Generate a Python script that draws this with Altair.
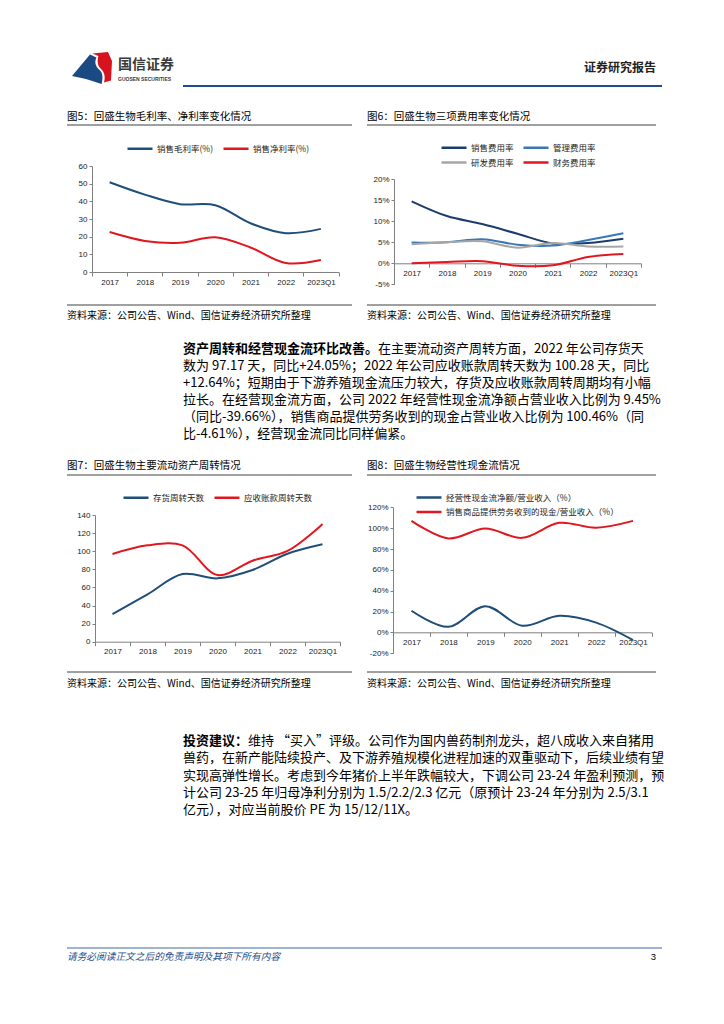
import altair as alt
import pandas as pd

# ---------------- data ----------------
cats = ["2017", "2018", "2019", "2020", "2021", "2022", "2023Q1"]

f5_names = ["销售毛利率(%)", "销售净利率(%)"]
f5_gross = [50.8, 43.8, 38.4, 37.8, 27.6, 22.0, 24.4]
f5_net = [22.6, 17.6, 16.5, 19.7, 13.9, 5.1, 6.8]

f6_names = ["销售费用率", "管理费用率", "研发费用率", "财务费用率"]
f6_sales = [14.7, 11.2, 9.3, 7.0, 4.7, 4.8, 5.8]
f6_admin = [4.9, 5.0, 5.7, 4.4, 4.2, 5.5, 7.1]
f6_rd = [4.5, 5.0, 5.2, 3.7, 4.8, 4.0, 4.0]
f6_fin = [0.0, 0.3, 0.5, -0.6, -0.5, 1.5, 2.2]

f7_names = ["存货周转天数", "应收账款周转天数"]
f7_inv = [30.5, 52.3, 74.8, 70.0, 79.2, 97.17, 107.6]
f7_ar = [96.9, 106.5, 106.5, 73.7, 89.5, 100.28, 130.0]

f8_names = ["经营性现金流净额/营业收入（%）", "销售商品提供劳务收到的现金/营业收入（%）"]
f8_ocf = [20.8, 5.4, 25.2, 6.4, 16.0, 9.45, -7.3]
f8_cash = [107.0, 90.1, 99.7, 90.7, 105.1, 100.46, 107.0]

f5_ticks = [0, 10, 20, 30, 40, 50, 60]
f6_ticks = [-5, 0, 5, 10, 15, 20]
f7_ticks = [0, 20, 40, 60, 80, 100, 120, 140]
f8_ticks = [-20, 0, 20, 40, 60, 80, 100, 120]

titles = ["图5：回盛生物毛利率、净利率变化情况", "图6：回盛生物三项费用率变化情况",
          "图7：回盛生物主要流动资产周转情况", "图8：回盛生物经营性现金流情况"]
source = "资料来源：公司公告、Wind、国信证券经济研究所整理"

para1_bold = "资产周转和经营现金流环比改善。"
para1 = [
    "在主要流动资产周转方面，2022 年公司存货天",
    "数为 97.17 天，同比+24.05%；2022 年公司应收账款周转天数为 100.28 天，同比",
    "+12.64%；短期由于下游养殖现金流压力较大，存货及应收账款周转周期均有小幅",
    "拉长。在经营现金流方面，公司 2022 年经营性现金流净额占营业收入比例为 9.45%",
    "（同比-39.66%），销售商品提供劳务收到的现金占营业收入比例为 100.46%（同",
    "比-4.61%），经营现金流同比同样偏紧。",
]
para2_bold = "投资建议："
para2 = [
    "维持 “买入”评级。公司作为国内兽药制剂龙头，超八成收入来自猪用",
    "兽药，在新产能陆续投产、及下游养殖规模化进程加速的双重驱动下，后续业绩有望",
    "实现高弹性增长。考虑到今年猪价上半年跌幅较大，下调公司 23-24 年盈利预测，预",
    "计公司 23-25 年归母净利分别为 1.5/2.2/2.3 亿元（原预计 23-24 年分别为 2.5/3.1",
    "亿元），对应当前股价 PE 为 15/12/11X。",
]

# ---------------- layout helpers ----------------
W, H = 708, 990
O = 8  # page margin -> chart origin
CJK = "Noto Sans CJK SC"
LAT = "Liberation Sans, Noto Sans CJK SC"
AX = "#808080"
BLUE = "#1f4e79"
RED = "#e0171e"
ONE = alt.Data(values=[{}])
LEG_LINE = "M-1,0H4"  # 25px legend line when symbolSize=100


def px(v):
    return v - O


def text(s, x, y, size=13, weight="normal", color="#000", align="left", style="normal", font=CJK):
    return alt.Chart(ONE).mark_text(
        text=s, fontSize=size, fontWeight=weight, color=color, align=align,
        baseline="middle", fontStyle=style, font=font
    ).encode(x=alt.value(px(x)), y=alt.value(px(y)))


def hrule(x1, x2, y, color="#404040", width=1.0):
    return alt.Chart(ONE).mark_rule(color=color, strokeWidth=width).encode(
        x=alt.value(px(x1)), x2=alt.value(px(x2)), y=alt.value(px(y)))


def figure(names, series, colors, xr, ydom, yr, yvals, xaxis_y, yaxis_x, leg, pct=False):
    rows = [{"cat": c, "series": n, "value": v}
            for n, vals in zip(names, series) for c, v in zip(cats, vals)]
    df = pd.DataFrame(rows)
    yax = dict(orient="left", offset=-px(yaxis_x), values=yvals, title=None, grid=False,
               domainColor=AX, tickColor=AX, tickSize=3, labelFontSize=8, labelPadding=2,
               labelFont=LAT, labelColor="#222")
    if pct:
        yax["labelExpr"] = "datum.value + '%'"
    legend = dict(orient="none", title=None, symbolType=LEG_LINE, symbolSize=100,
                  symbolStrokeWidth=2.5, labelFontSize=8.5, labelFont=CJK, labelColor="#222",
                  columnPadding=4, rowPadding=3, labelOffset=18, padding=0, labelLimit=400)
    legend.update(leg)
    return alt.Chart(df).mark_line(interpolate="catmull-rom", strokeWidth=2).encode(
        x=alt.X("cat:N", sort=cats, bandPosition=0.5,
                scale=alt.Scale(type="band", domain=cats, range=[px(xr[0]), px(xr[1])],
                                paddingInner=0, paddingOuter=0),
                axis=alt.Axis(orient="bottom", offset=px(xaxis_y) - H, title=None, grid=False,
                              tickBand="extent", labelAngle=0, domainColor=AX, tickColor=AX,
                              tickSize=4, labelFontSize=8, labelPadding=2, labelFont=LAT,
                              labelColor="#222", labelOverlap=False)),
        y=alt.Y("value:Q", scale=alt.Scale(domain=ydom, range=[px(yr[0]), px(yr[1])],
                                           nice=False, zero=False),
                axis=alt.Axis(**yax)),
        color=alt.Color("series:N", sort=names,
                        scale=alt.Scale(domain=names, range=colors),
                        legend=alt.Legend(**legend)),
    )


layers = []

# header
logo_blue = "M-1,0.4 L-0.1,-0.68 L0.22,-0.52 C0.1,-0.25 0.2,-0.05 0.38,0.1 C0.55,0.25 0.55,0.5 0.48,0.8 L-0.3,0.55 Z"
logo_red = "M0.02,-0.72 L0.8,-0.8 L1,-0.35 L0.95,0.62 L0.6,0.72 C0.68,0.45 0.62,0.2 0.45,0.05 C0.28,-0.1 0.25,-0.35 0.32,-0.6 Z"
for shp, col in [(logo_blue, "#1b4a82"), (logo_red, "#d7141e")]:
    layers.append(alt.Chart(ONE).mark_point(shape=shp, filled=True, size=1600, opacity=1,
                                            color=col, strokeWidth=0)
                  .encode(x=alt.value(px(92)), y=alt.value(px(68))))
layers.append(text("国信证券", 118, 65, size=14, weight="bold", color="#3a3a3a"))
layers.append(text("GUOSEN SECURITIES", 118, 79, size=5, weight="bold", color="#3a3a3a",
                   font="Liberation Sans"))
layers.append(text("证券研究报告", 656, 68, size=12, weight="bold", color="#222", align="right"))
layers.append(hrule(183, 662, 86, color="#1f4e8c", width=2))

# figure frames (titles, rules, sources)
for i, (tx, ty, ry, sry, sty) in enumerate([(67, 117, 125, 305, 316), (367, 117, 125, 305, 316),
                                            (67, 466, 475, 672, 684), (367, 466, 475, 672, 684)]):
    x2 = 352 if tx < 200 else 656
    layers.append(text(titles[i], tx, ty, size=10.5))
    layers.append(hrule(tx, x2, ry))
    layers.append(hrule(tx, x2, sry))
    layers.append(text(source, tx, sty, size=10))

# charts
layers.append(figure(f5_names, [f5_gross, f5_net], [BLUE, RED], (92, 338.5),
                     [0, 60], (272, 166), f5_ticks, 272, 92,
                     dict(direction="horizontal", legendX=px(126), legendY=px(142))))
layers.append(figure(f6_names, [f6_sales, f6_admin, f6_rd, f6_fin],
                     ["#1a3d6d", "#3a78b5", "#a6a6a6", RED], (394, 641),
                     [-5, 20], (284.3, 179), f6_ticks, 263.3, 394,
                     dict(direction="horizontal", columns=2, legendX=px(440), legendY=px(141)),
                     pct=True))
layers.append(figure(f7_names, [f7_inv, f7_ar], [BLUE, RED], (95, 340),
                     [0, 140], (641.7, 515), f7_ticks, 641.7, 95,
                     dict(direction="horizontal", legendX=px(122), legendY=px(491))))
layers.append(figure(f8_names, [f8_ocf, f8_cash], [BLUE, RED], (393, 651.5),
                     [-20, 120], (653.3, 507.3), f8_ticks, 632.3, 393,
                     dict(direction="vertical", legendX=px(415), legendY=px(491), rowPadding=2.5),
                     pct=True))

# paragraphs
P1Y = [349, 366, 383, 400, 417, 434]
layers.append(text(para1_bold, 183, P1Y[0], weight="bold"))
layers.append(text(para1[0], 183 + 13 * len(para1_bold), P1Y[0]))
for line, y in zip(para1[1:], P1Y[1:]):
    layers.append(text(line, 183, y))

P2Y = [741, 758, 775.5, 793, 810]
layers.append(text(para2_bold, 183, P2Y[0], weight="bold"))
layers.append(text(para2[0], 183 + 13 * len(para2_bold), P2Y[0]))
for line, y in zip(para2[1:], P2Y[1:]):
    layers.append(text(line, 183, y))

# footer
layers.append(hrule(67, 662, 948, color="#3a6aa5", width=1))
layers.append(text("请务必阅读正文之后的免责声明及其项下所有内容", 67, 957, size=9.7,
                   color="#1f4e8c", style="italic"))
layers.append(text("3", 656, 957, size=9.5, align="right", font="Liberation Sans"))

chart = (alt.layer(*layers)
         .resolve_scale(x="independent", y="independent", color="independent")
         .resolve_axis(x="independent", y="independent")
         .resolve_legend(color="independent")
         .properties(width=W, height=H, padding=0, autosize=alt.AutoSizeParams(type="none"))
         .configure_view(stroke=None))

chart.save("out.html", embed_options={"renderer": "svg", "actions": False})
